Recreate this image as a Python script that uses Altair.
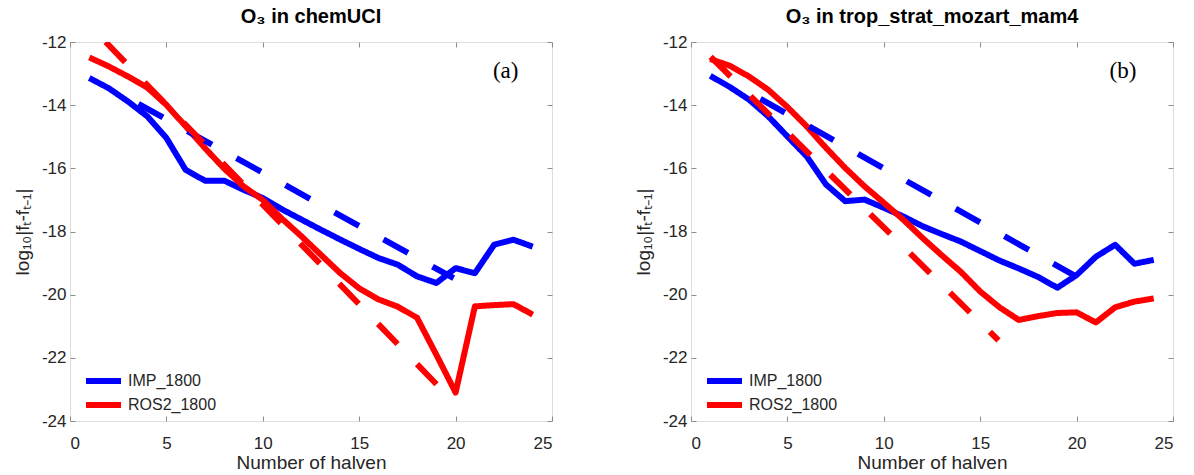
import altair as alt
import pandas as pd

# ---------------- data ----------------
halvings = list(range(1, 25))
series = ["IMP_1800", "ROS2_1800"]
colors = ["#0000FF", "#FF0000"]
kinds = ["solid", "dashed"]

a_imp = [-13.14, -13.46, -13.88, -14.35, -15.04, -16.05, -16.39, -16.39, -16.68, -16.94,
         -17.30, -17.62, -17.94, -18.25, -18.55, -18.84, -19.05, -19.42, -19.63, -19.16,
         -19.32, -18.42, -18.26, -18.48]
a_ros = [-12.49, -12.77, -13.09, -13.44, -13.99, -14.67, -15.36, -16.01, -16.57, -17.00,
         -17.60, -18.15, -18.73, -19.31, -19.80, -20.15, -20.38, -20.73, -21.90, -23.10,
         -20.37, -20.33, -20.30, -20.63]
a_ref_imp_x = [3.55, 19.9]
a_ref_imp_y = [-13.96, -19.48]
a_ref_ros_x = [1.85, 19.98]
a_ref_ros_y = [-12.0, -23.45]

b_imp = [-13.07, -13.42, -13.82, -14.35, -14.99, -15.62, -16.51, -17.04, -16.99, -17.25,
         -17.52, -17.83, -18.08, -18.32, -18.62, -18.92, -19.17, -19.44, -19.78, -19.38,
         -18.80, -18.42, -19.02, -18.90]
b_ros = [-12.54, -12.75, -13.09, -13.51, -14.06, -14.67, -15.35, -15.99, -16.57, -17.09,
         -17.62, -18.20, -18.75, -19.28, -19.90, -20.40, -20.80, -20.68, -20.58, -20.56,
         -20.88, -20.40, -20.22, -20.12]
b_ref_imp_x = [3.6, 19.9]
b_ref_imp_y = [-13.8, -19.4]
b_ref_ros_x = [1.02, 15.95]
b_ref_ros_y = [-12.47, -21.45]

panel_titles = ["O\u2083 in chemUCI", "O\u2083 in trop_strat_mozart_mam4"]
panel_tags = ["(a)", "(b)"]
tag_x = [22.6, 22.4]
tag_y = [-12.92, -12.92]
x_ticks = [0, 5, 10, 15, 20, 25]
y_ticks = [-24, -22, -20, -18, -16, -14, -12]
x_title = "Number of halven"
y_title = "log\u2081\u2080|f\u209c-f\u209c\u208b\u2081|"

FONT = "Liberation Sans"
TXT = "#262626"
FRAME = "#8c8c8c"
PW, PH = 482, 379


def panel(imp, ros, rix, riy, rrx, rry, title, tag, tx, ty):
    n = len(halvings)
    lines = pd.DataFrame({
        "x": halvings * 2 + rix + rrx,
        "y": imp + ros + riy + rry,
        "s": [series[0]] * n + [series[1]] * n + [series[0]] * len(rix) + [series[1]] * len(rrx),
        "k": [kinds[0]] * (2 * n) + [kinds[1]] * (len(rix) + len(rrx)),
    })
    tagdf = pd.DataFrame({"x": [tx], "y": [ty], "t": [tag]})

    xs = alt.Scale(domain=[0, 25], nice=False, zero=False)
    ys = alt.Scale(domain=[-24, -12], nice=False, zero=False)
    cs = alt.Scale(domain=series, range=colors)

    common = dict(offset=-5, tickSize=5, domain=False, grid=False, tickColor=FRAME,
                  tickWidth=1, labelFont=FONT, labelFontSize=17, labelColor=TXT,
                  titleFont=FONT, titleColor=TXT, titleFontWeight="normal")
    lab = "replace(datum.label, '\u2212', '-')"
    xaxis = alt.Axis(values=x_ticks, title=x_title, orient="bottom", labelPadding=14,
                     titlePadding=2, titleFontSize=19, labelExpr=lab, **common)
    yaxis = alt.Axis(values=y_ticks, title=y_title, orient="left", labelPadding=4,
                     titlePadding=9, titleFontSize=19, labelExpr=lab, **common)
    xaxis2 = alt.Axis(values=x_ticks, title=None, orient="top", labels=False, **common)
    yaxis2 = alt.Axis(values=y_ticks, title=None, orient="right", labels=False, **common)

    line_l = alt.Chart(lines).mark_line(strokeWidth=6, strokeJoin="round", clip=True).encode(
        x=alt.X("x:Q", scale=xs, axis=xaxis),
        y=alt.Y("y:Q", scale=ys, axis=yaxis),
        color=alt.Color("s:N", scale=cs, legend=alt.Legend(
            title=None, orient="none", legendX=25.5, legendY=331,
            symbolType="M-3.5,0H3.5", symbolSize=100, symbolStrokeWidth=6,
            labelFont=FONT, labelFontSize=16, labelColor=TXT, labelOffset=16.5,
            rowPadding=0, symbolOpacity=1)),
        strokeDash=alt.StrokeDash("k:N", scale=alt.Scale(domain=kinds, range=[[1, 0], [28, 28]]),
                                  legend=None),
        order="x:Q",
    )
    tag_l = alt.Chart(tagdf).mark_text(font="Liberation Serif", fontSize=23, color="black").encode(
        x=alt.X("x:Q", scale=xs, axis=xaxis2),
        y=alt.Y("y:Q", scale=ys, axis=yaxis2),
        text="t:N",
    )
    return alt.layer(line_l, tag_l).resolve_scale(
        x="independent", y="independent").properties(
        width=PW, height=PH,
        title=alt.TitleParams(title, font=FONT, fontSize=20, fontWeight="bold",
                              color="black", offset=6, anchor="middle"))


pa = panel(a_imp, a_ros, a_ref_imp_x, a_ref_imp_y, a_ref_ros_x, a_ref_ros_y,
           panel_titles[0], panel_tags[0], tag_x[0], tag_y[0])
pb = panel(b_imp, b_ros, b_ref_imp_x, b_ref_imp_y, b_ref_ros_x, b_ref_ros_y,
           panel_titles[1], panel_tags[1], tag_x[1], tag_y[1])

chart = alt.hconcat(pa, pb, spacing=139, bounds="flush").resolve_scale(
    color="independent", x="independent", y="independent", strokeDash="independent").resolve_legend(
    color="independent").properties(
    padding={"left": 12, "top": 6, "right": 5, "bottom": 2}).configure_view(
    stroke=FRAME, strokeWidth=1).configure(background="white")

chart.save("out.html", embed_options={"renderer": "svg", "actions": False})
